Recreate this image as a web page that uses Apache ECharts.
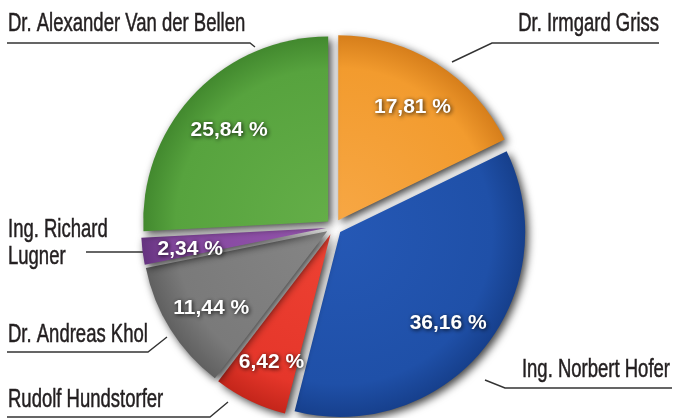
<!DOCTYPE html>
<html>
<head>
<meta charset="utf-8">
<script src="https://cdn.jsdelivr.net/npm/echarts@6/dist/echarts.min.js"></script>
<style>
  html, body { margin: 0; padding: 0; background: #fff; }
  #chart { width: 675px; height: 418px; }
</style>
</head>
<body>
<div id="chart"></div>
<script>
// Wahlergebnis, clockwise from 12 o'clock
const candidates = ['Dr. Irmgard Griss', 'Ing. Norbert Hofer', 'Rudolf Hundstorfer', 'Dr. Andreas Khol', 'Ing. Richard\nLugner', 'Dr. Alexander Van der Bellen'];
const shares = [17.81, 36.16, 6.42, 11.44, 2.34, 25.84];
const sliceColors = [
    ['#f7a744', '#f29b2e', '#d27a18'],
    ['#2558b5', '#1f50a8', '#153d88'],
    ['#ee4233', '#e5362a', '#bf2318'],
    ['#858585', '#7a7a7a', '#5c5c5c'],
    ['#9455ac', '#84479f', '#60307a'],
    ['#64ae48', '#57a33e', '#3f852c']
];

// where each name sits and how its leader line runs (layout only)
const nameSpots = [
    { x: 659, y: 24, align: 'right', line: [[452, 62], [492, 43], [659, 43]] },
    { x: 670, y: 370, align: 'right', line: [[485, 380], [505, 388], [672, 388]] },
    { x: 8, y: 400, align: 'left', line: [[228, 402], [210, 417], [7, 417]] },
    { x: 8, y: 335, align: 'left', line: [[167, 337], [148, 352], [7, 352]] },
    { x: 8, y: 244, align: 'left', line: [[143, 252], [86, 252]] },
    { x: 8, y: 24, align: 'left', line: [[255, 47], [250, 43], [7, 43]] }
];

const fmt = v => v.toFixed(2).replace('.', ',') + ' %';

const chart = echarts.init(document.getElementById('chart'));

const sliceData = candidates.map((name, i) => ({
    name: name,
    value: shares[i],
    selected: true,
    itemStyle: {
        color: {
            type: 'radial', x: 334, y: 227, r: 190, global: true,
            colorStops: [
                { offset: 0, color: sliceColors[i][0] },
                { offset: 0.8, color: sliceColors[i][1] },
                { offset: 1, color: sliceColors[i][2] }
            ]
        }
    }
}));

const nameGraphics = [];
candidates.forEach((name, i) => {
    const s = nameSpots[i];
    nameGraphics.push({
        type: 'polyline',
        silent: true,
        shape: { points: s.line },
        style: { stroke: '#333', lineWidth: 1.4, fill: null }
    });
    nameGraphics.push({
        type: 'text',
        silent: true,
        x: s.x,
        y: s.y,
        scaleX: 0.74,
        style: {
            text: name,
            fill: '#231f20',
            stroke: '#231f20',
            lineWidth: 0.5,
            fontFamily: '"Liberation Sans", Arial, sans-serif',
            fontSize: 25,
            lineHeight: 27,
            align: s.align,
            verticalAlign: 'middle'
        }
    });
});

const option = {
    animation: false,
    graphic: nameGraphics,
    series: [
        {
            type: 'pie',
            center: [334, 227],
            radius: 185,
            startAngle: 90,
            clockwise: true,
            selectedMode: 'multiple',
            selectedOffset: 8,
            silent: true,
            itemStyle: {
                borderWidth: 0,
                shadowColor: 'rgba(0,0,0,0.75)',
                shadowBlur: 8,
                shadowOffsetX: 3,
                shadowOffsetY: 3
            },
            label: { show: false },
            labelLine: { show: false },
            data: sliceData
        },
        {
            type: 'pie',
            center: [335, 231],
            radius: 270,
            startAngle: 90,
            clockwise: true,
            selectedMode: 'multiple',
            selectedOffset: 8,
            silent: true,
            itemStyle: { color: 'rgba(0,0,0,0)' },
            label: {
                show: true,
                position: 'inside',
                formatter: p => fmt(p.value),
                color: '#fff',
                fontWeight: 'bold',
                fontFamily: '"Liberation Sans", Arial, sans-serif',
                fontSize: 21,
                textShadowColor: 'rgba(0,0,0,0.85)',
                textShadowBlur: 4,
                textShadowOffsetX: 1,
                textShadowOffsetY: 1
            },
            labelLine: { show: false },
            data: candidates.map((name, i) => ({ name: name, value: shares[i], selected: true }))
        }
    ]
};

chart.setOption(option);
</script>
</body>
</html>
